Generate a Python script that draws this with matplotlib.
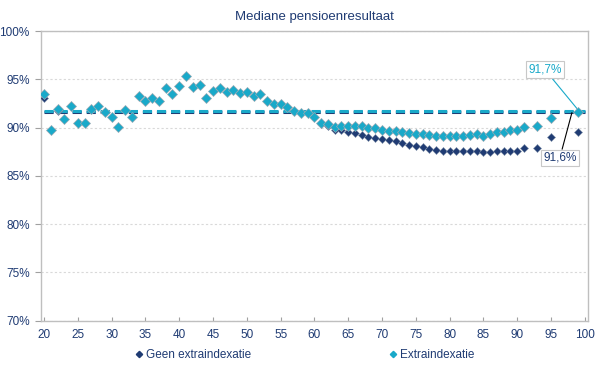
import matplotlib
matplotlib.use('Agg')
import matplotlib.pyplot as plt
from matplotlib.lines import Line2D

plt.rcParams['font.family'] = ['Liberation Sans', 'DejaVu Sans']

navy = '#1F3B73'
cyan = '#19A9C9'
grid_gray = '#D9D9D9'

ages = list(range(20, 92)) + [93, 95, 99]

# Extra indexatie (cyan)
extra = [93.5, 89.75, 91.9, 90.9, 92.2, 90.45, 90.45, 91.9, 92.2, 91.6,
         91.1, 90.05, 91.8, 91.05, 93.3, 92.75, 93.05, 92.75, 94.1, 93.5,
         94.3, 95.35, 94.15, 94.4, 93.05, 93.8, 94.05, 93.7, 93.9, 93.6,
         93.7, 93.25, 93.45, 92.8, 92.45, 92.45, 92.1, 91.7, 91.5, 91.5,
         91.05, 90.5, 90.4, 90.05, 90.2, 90.2, 90.2, 90.2, 89.95, 89.95,
         89.8, 89.65, 89.6, 89.5, 89.4, 89.3, 89.3, 89.2, 89.1, 89.1,
         89.15, 89.15, 89.15, 89.25, 89.35, 89.1, 89.3, 89.55, 89.5, 89.7,
         89.7, 90.05, 90.2, 91.0, 91.6]

# Geen extra indexatie (navy)
geen = [93.1, 89.75, 91.7, 90.9, 92.2, 90.45, 90.45, 91.9, 92.2, 91.6,
        91.1, 90.05, 91.8, 91.05, 93.3, 92.75, 93.05, 92.75, 94.1, 93.5,
        94.3, 95.35, 94.15, 94.4, 93.05, 93.8, 94.05, 93.7, 93.9, 93.6,
        93.7, 93.25, 93.45, 92.8, 92.45, 92.45, 92.1, 91.7, 91.5, 91.5,
        91.05, 90.4, 90.15, 89.75, 89.7, 89.55, 89.4, 89.2, 89.0, 88.9,
        88.8, 88.7, 88.6, 88.4, 88.2, 88.1, 88.0, 87.8, 87.65, 87.6,
        87.6, 87.6, 87.55, 87.55, 87.55, 87.45, 87.45, 87.6, 87.55, 87.6,
        87.6, 87.9, 87.9, 89.0, 89.55]

avg_geen = 91.6
avg_extra = 91.7

fig = plt.figure(figsize=(6.02, 3.67), dpi=100)
ax = fig.add_axes([0.0676, 0.1262, 0.9094, 0.7893])

ax.plot([20, 100], [avg_geen, avg_geen], color=navy, lw=2.2,
        dashes=(3, 1.6), zorder=2)
ax.plot([20, 100], [avg_extra, avg_extra], color=cyan, lw=2.2,
        dashes=(3, 1.6), zorder=2)

ax.plot(ages, geen, 'D', color=navy, ms=4.5, mec='#7F8FA8', mew=0.4,
        zorder=3, label='Geen extraindexatie')
ax.plot(ages, extra, 'D', color=cyan, ms=5.1, mec='#9AAAB4', mew=0.5,
        zorder=4, label='Extraindexatie')

ax.set_xlim(19.5, 100.5)
ax.set_ylim(70, 100)
ax.set_xticks(range(20, 101, 5))
ax.set_yticks(range(70, 101, 5))
ax.set_yticklabels([f'{v}%' for v in range(70, 101, 5)])
ax.tick_params(axis='both', colors='#A0A0A0', labelcolor=navy, labelsize=8.5)
ax.tick_params(axis='x', direction='in', length=3, pad=6)
ax.tick_params(axis='y', direction='out', length=4, pad=4)
for s in ax.spines.values():
    s.set_color('#BFBFBF')
    s.set_linewidth(1.0)
ax.grid(axis='y', color=grid_gray, ls=(0, (2, 2)), lw=0.8)
ax.set_axisbelow(True)

ax.set_title('Mediane pensioenresultaat', color=navy, fontsize=9.5, pad=8)

# labels for the average lines
ax.annotate('91,7%', xy=(99.1, avg_extra + 0.05), xytext=(94.1, 96.0),
            color=cyan, fontsize=8.5, ha='center', va='center',
            bbox=dict(boxstyle='square,pad=0.2', fc='white', ec='#C8C8C8', lw=0.8),
            arrowprops=dict(arrowstyle='-', color=cyan, lw=0.8,
                            shrinkA=0, shrinkB=0))
ax.annotate('91,6%', xy=(98.1, avg_geen - 0.05), xytext=(96.3, 86.85),
            color=navy, fontsize=8.5, ha='center', va='center',
            bbox=dict(boxstyle='square,pad=0.2', fc='white', ec='#C8C8C8', lw=0.8),
            arrowprops=dict(arrowstyle='-', color='black', lw=0.8,
                            shrinkA=0, shrinkB=0))

handles = [Line2D([], [], ls='none', marker='D', color=navy, ms=3.2),
           Line2D([], [], ls='none', marker='D', color=cyan, ms=3.2)]
leg = fig.legend(handles, ['Geen extraindexatie', 'Extraindexatie'],
                 loc='center', bbox_to_anchor=(0.505, 0.033), ncol=2,
                 frameon=False, fontsize=8.5, columnspacing=11.5,
                 handletextpad=0.1, handlelength=1.0)
for t in leg.get_texts():
    t.set_color(navy)

fig.savefig('out.png', dpi=100)
